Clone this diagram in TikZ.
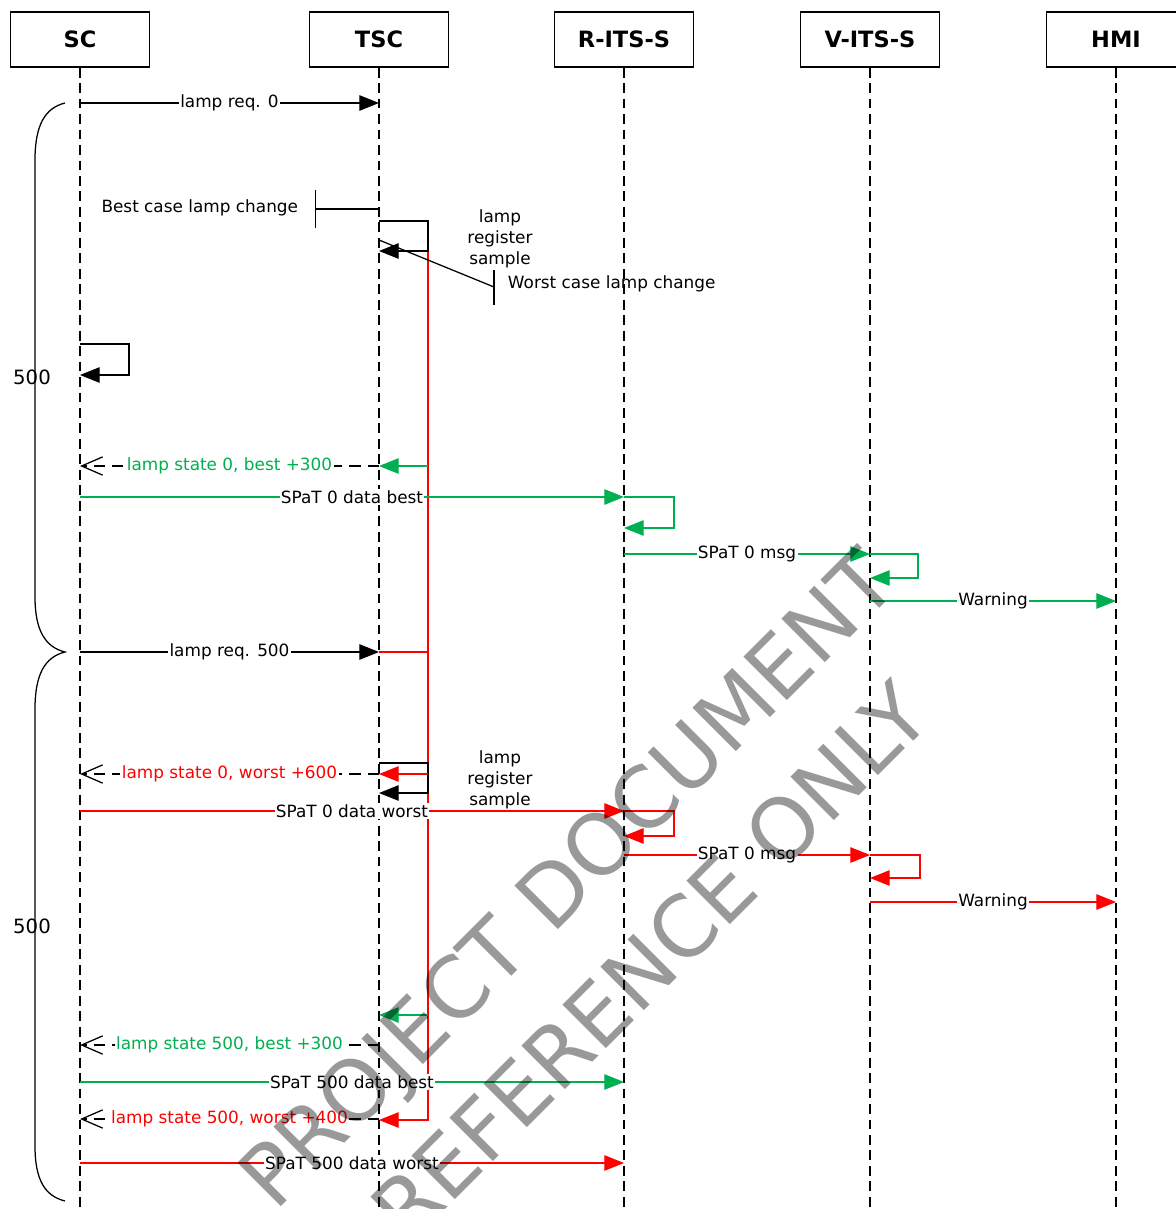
\documentclass[tikz,border=0pt]{standalone}
\usepackage{fontspec}
\setmainfont{DejaVu Sans}
\usetikzlibrary{arrows.meta}
\definecolor{okgreen}{RGB}{0,176,80}
\definecolor{errred}{RGB}{255,0,0}
\tikzset{
	head/.style={draw, line width=1pt, minimum width=3.47cm, minimum height=1.375cm,
		font=\fontsize{16}{19}\selectfont\bfseries},
	life/.style={line width=1.1pt, dash pattern=on 7pt off 4pt},
	msg/.style={line width=0.9pt, -{Triangle[length=14pt, width=11pt]}},
	reply/.style={line width=0.9pt, dash pattern=on 8pt off 5pt,
		-{Straight Barb[length=15pt, width=13pt, line width=0.9pt]}},
	lbl/.style={fill=white, inner sep=1pt, text=black, font=\fontsize{12}{14}\selectfont},
	note/.style={font=\fontsize{12}{15}\selectfont},
}
\begin{document}
\begin{tikzpicture}[x=0.025cm, y=-0.025cm]
		\useasboundingbox (0, 0) rectangle (1176, 1209);
		\clip (0, 0) rectangle (1176, 1209);
		% lifelines
		\node[head] (sc) at (80, 39.5) {SC};
		\node[head] (tsc) at (379, 39.5) {TSC};
		\node[head] (rits) at (624, 39.5) {R-ITS-S};
		\node[head] (vits) at (870, 39.5) {V-ITS-S};
		\node[head] (hmi) at (1116, 39.5) {HMI};
		\coordinate (bottom) at (0, 1215);
		\coordinate (tsr) at (428, 0);
		\foreach \n in {sc, tsc, rits, vits, hmi}{
			\draw[life] (\n.south) -- (\n.south |- bottom);
		}
		% cycle braces
		\draw[line width=0.9pt] (65, 103) .. controls (45, 108) and (35, 125) .. (35, 160) -- (35, 597)
			.. controls (35, 630) and (45, 647) .. (65, 652)
			.. controls (45, 657) and (35, 674) .. (35, 709) -- (35, 1146)
			.. controls (35, 1180) and (45, 1196) .. (65, 1201);
		\node[note, font=\fontsize{14}{16}\selectfont] (cyc1) at (32, 377) {500};
		\node[note, font=\fontsize{14}{16}\selectfont] (cyc2) at (32, 926) {500};
		% TSC activity
		\draw[msg, errred] (tsr |- 0, 251) |- (tsc |- 0, 1120);
		\draw[line width=0.9pt, errred] (tsc |- 0, 652) -- (tsr |- 0, 652);
		% cycle 0
		\draw[msg] (sc |- 0, 103) -- node[lbl] (m1) {lamp req. 0} (tsc |- 0, 103);
		\draw[line width=0.9pt, -{Bar[width=27pt]}] (tsc |- 0, 209) -- (315, 209);
		\node[note, anchor=east] (bestc) at (303, 208) {Best case lamp change};
		\draw[msg] (tsc |- 0, 221) -| (tsr |- 0, 251) -- (tsc |- 0, 251);
		\coordinate (wtick) at (494, 287);
		\draw[line width=0.9pt] (tsc |- 0, 240) -- (wtick);
		\draw[line width=0.9pt] (494, 270) -- (494, 305);
		\node[note, anchor=west] (worstc) at (503, 284) {Worst case lamp change};
		\node[note, align=center] (samp1) at (500, 239) {lamp\\register\\sample};
		\draw[msg] (sc |- 0, 344) -| (129, 375) -- (sc |- 0, 375);
		\draw[msg, okgreen] (tsr |- 0, 466) -- (tsc |- 0, 466);
		\draw[reply] (tsc |- 0, 466) -- node[lbl, text=okgreen] (m2) {lamp state 0, best +300} (sc |- 0, 466);
		\draw[msg, okgreen] (sc |- 0, 497) -- node[lbl] (m3) {SPaT 0 data best} (rits |- 0, 497);
		\draw[msg, okgreen] (rits |- 0, 497) -| (674, 528) -- (rits |- 0, 528);
		\draw[msg, okgreen] (rits |- 0, 554) -- node[lbl] (m4) {SPaT 0 msg} (vits |- 0, 554);
		\draw[msg, okgreen] (vits |- 0, 554) -| (918, 578) -- (vits |- 0, 578);
		\draw[msg, okgreen] (vits |- 0, 601) -- node[lbl] (m5) {Warning} (hmi |- 0, 601);
		% cycle 500
		\draw[msg] (sc |- 0, 652) -- node[lbl] (m6) {lamp req. 500} (tsc |- 0, 652);
		\draw[msg] (tsc |- 0, 763) -| (tsr |- 0, 793) -- (tsc |- 0, 793);
		\draw[msg, errred] (tsr |- 0, 774) -- (tsc |- 0, 774);
		\draw[reply] (tsc |- 0, 774) -- node[lbl, text=errred] (m7) {lamp state 0, worst +600} (sc |- 0, 774);
		\node[note, align=center] (samp2) at (500, 780) {lamp\\register\\sample};
		\draw[msg, errred] (sc |- 0, 811) -- node[lbl] (m8) {SPaT 0 data worst} (rits |- 0, 811);
		\draw[msg, errred] (rits |- 0, 811) -| (674, 836) -- (rits |- 0, 836);
		\draw[msg, errred] (rits |- 0, 855) -- node[lbl] (m9) {SPaT 0 msg} (vits |- 0, 855);
		\draw[msg, errred] (vits |- 0, 855) -| (920, 878) -- (vits |- 0, 878);
		\draw[msg, errred] (vits |- 0, 902) -- node[lbl] (m10) {Warning} (hmi |- 0, 902);
		\draw[msg, okgreen] (tsr |- 0, 1015) -- (tsc |- 0, 1015);
		\draw[reply] (tsc |- 0, 1045) -- node[lbl, text=okgreen] (m11) {lamp state 500, best +300} (sc |- 0, 1045);
		\draw[msg, okgreen] (sc |- 0, 1082) -- node[lbl] (m12) {SPaT 500 data best} (rits |- 0, 1082);
		\draw[reply] (tsc |- 0, 1119) -- node[lbl, text=errred] (m13) {lamp state 500, worst +400} (sc |- 0, 1119);
		\draw[msg, errred] (sc |- 0, 1163) -- node[lbl] (m14) {SPaT 500 data worst} (rits |- 0, 1163);
		% watermark
		\node[rotate=45, text=black, text opacity=0.4, align=center,
			font=\fontsize{60}{84}\selectfont] (mark) at (608, 920) {PROJECT DOCUMENT\\REFERENCE ONLY};
	\end{tikzpicture}
\end{document}
